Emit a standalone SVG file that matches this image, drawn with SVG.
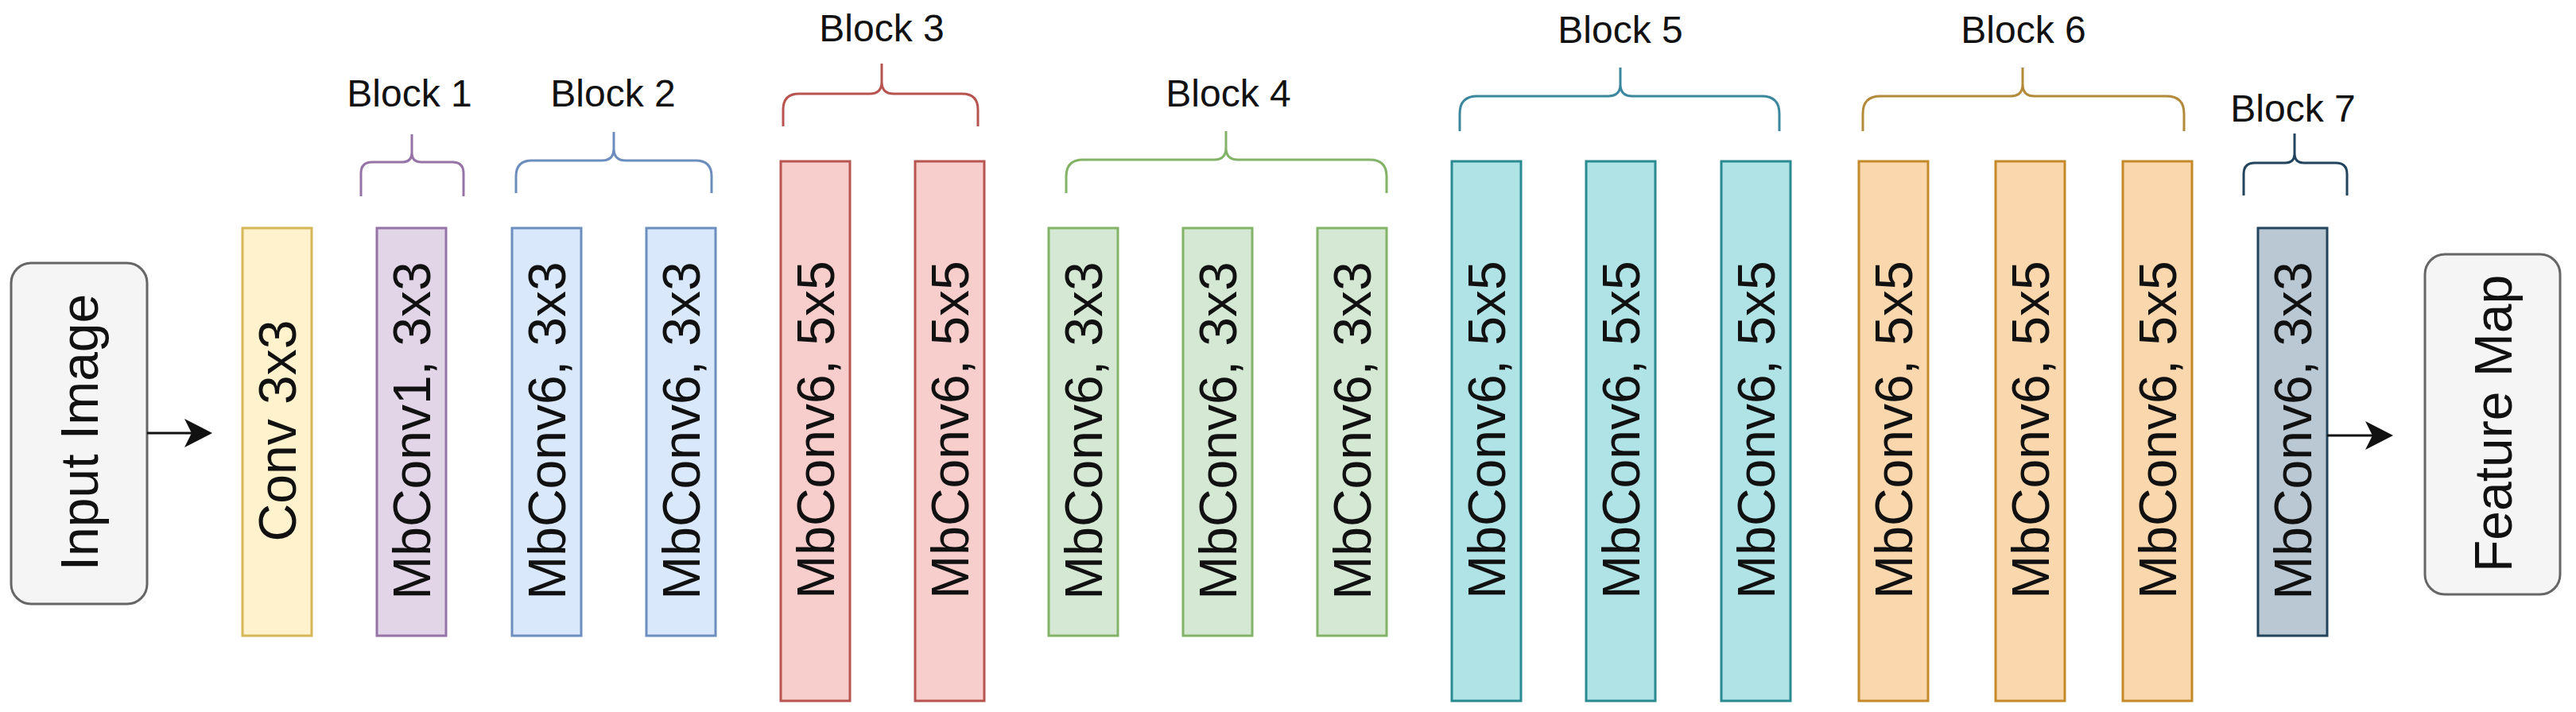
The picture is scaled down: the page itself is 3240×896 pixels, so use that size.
<svg xmlns="http://www.w3.org/2000/svg" width="3240" height="896" viewBox="0 0 3240 896">
  <style>
    .lbl { font-family: "Liberation Sans", Arial, Helvetica, sans-serif; fill: #111; }
    .vt { font-size: 66px; text-anchor: middle; }
    .bt { font-size: 48px; text-anchor: middle; }
    .box { stroke-width: 3; }
    .term { fill: #f5f5f5; stroke: #666666; stroke-width: 3; }
    .brace { fill: none; stroke-width: 3; stroke-linecap: butt; }
    .yel { fill: #fff2cc; stroke: #d6b656; }
    .pur { fill: #e1d5e7; stroke: #9673a6; }
    .blu { fill: #dae8fc; stroke: #6c8ebf; }
    .red { fill: #f8cecc; stroke: #b85450; }
    .grn { fill: #d5e8d4; stroke: #82b366; }
    .cya { fill: #b0e3e6; stroke: #2a8a92; }
    .ora { fill: #fad7ac; stroke: #c48a2a; }
    .gry { fill: #bac8d3; stroke: #23445d; }
    .conn { stroke: #111; stroke-width: 3; fill: none; }
  </style>
  <defs>
    <marker id="arrow" markerUnits="userSpaceOnUse" markerWidth="36" markerHeight="36" refX="26" refY="18" orient="auto">
      <path d="M0,0 L35,18 L0,36 L9,18 Z" fill="#111"/>
    </marker>
  </defs>
  <rect x="0" y="0" width="3240" height="896" fill="#ffffff"/>

  <g id="input-image">
    <rect class="term" x="14" y="331" width="171" height="429" rx="25" ry="25"/>
    <text class="lbl vt" transform="translate(122.6,544) rotate(-90)">Input Image</text>
  </g>

  <g id="conv3x3">
    <rect class="box yel" x="305" y="287" width="87" height="513"/>
    <text class="lbl vt" transform="translate(372,542) rotate(-90)">Conv 3x3</text>
  </g>

  <g id="block1">
    <path class="brace" stroke="#9673a6" d="M454,247 V218 Q454,204 468,204 H506 Q518,204 518,192 V169 M518,192 Q518,204 530,204 H569 Q583,204 583,218 V247"/>
    <text class="lbl bt" x="515" y="134">Block 1</text>
    <g id="b1-mbconv1">
      <rect class="box pur" x="474" y="287" width="87" height="513"/>
      <text class="lbl vt" transform="translate(541,542) rotate(-90)">MbConv1, 3x3</text>
    </g>
  </g>

  <g id="block2">
    <path class="brace" stroke="#6c8ebf" d="M649,243 V222 Q649,202 669,202 H757 Q772,202 772,187 V166 M772,187 Q772,202 787,202 H875 Q895,202 895,222 V243"/>
    <text class="lbl bt" x="771" y="134">Block 2</text>
    <g id="b2-1">
      <rect class="box blu" x="644" y="287" width="87" height="513"/>
      <text class="lbl vt" transform="translate(711,542) rotate(-90)">MbConv6, 3x3</text>
    </g>
    <g id="b2-2">
      <rect class="box blu" x="813" y="287" width="87" height="513"/>
      <text class="lbl vt" transform="translate(880,542) rotate(-90)">MbConv6, 3x3</text>
    </g>
  </g>

  <g id="block3">
    <path class="brace" stroke="#b85450" d="M985,159 V138 Q985,118 1005,118 H1094 Q1109,118 1109,103 V80 M1109,103 Q1109,118 1124,118 H1210 Q1230,118 1230,138 V159"/>
    <text class="lbl bt" x="1109" y="52">Block 3</text>
    <g id="b3-1">
      <rect class="box red" x="982" y="203" width="87" height="679"/>
      <text class="lbl vt" transform="translate(1049,541) rotate(-90)">MbConv6, 5x5</text>
    </g>
    <g id="b3-2">
      <rect class="box red" x="1151" y="203" width="87" height="679"/>
      <text class="lbl vt" transform="translate(1218,541) rotate(-90)">MbConv6, 5x5</text>
    </g>
  </g>

  <g id="block4">
    <path class="brace" stroke="#82b366" d="M1341,243 V222 Q1341,201 1362,201 H1527 Q1542,201 1542,186 V165 M1542,186 Q1542,201 1557,201 H1723 Q1744,201 1744,222 V243"/>
    <text class="lbl bt" x="1545" y="134">Block 4</text>
    <g id="b4-1">
      <rect class="box grn" x="1319" y="287" width="87" height="513"/>
      <text class="lbl vt" transform="translate(1386,542) rotate(-90)">MbConv6, 3x3</text>
    </g>
    <g id="b4-2">
      <rect class="box grn" x="1488" y="287" width="87" height="513"/>
      <text class="lbl vt" transform="translate(1555,542) rotate(-90)">MbConv6, 3x3</text>
    </g>
    <g id="b4-3">
      <rect class="box grn" x="1657" y="287" width="87" height="513"/>
      <text class="lbl vt" transform="translate(1724,542) rotate(-90)">MbConv6, 3x3</text>
    </g>
  </g>

  <g id="block5">
    <path class="brace" stroke="#3a879e" d="M1836,165 V143 Q1836,121 1858,121 H2023 Q2038,121 2038,106 V85 M2038,106 Q2038,121 2053,121 H2216 Q2238,121 2238,143 V165"/>
    <text class="lbl bt" x="2038" y="54">Block 5</text>
    <g id="b5-1">
      <rect class="box cya" x="1826" y="203" width="87" height="679"/>
      <text class="lbl vt" transform="translate(1893,541) rotate(-90)">MbConv6, 5x5</text>
    </g>
    <g id="b5-2">
      <rect class="box cya" x="1995" y="203" width="87" height="679"/>
      <text class="lbl vt" transform="translate(2062,541) rotate(-90)">MbConv6, 5x5</text>
    </g>
    <g id="b5-3">
      <rect class="box cya" x="2165" y="203" width="87" height="679"/>
      <text class="lbl vt" transform="translate(2232,541) rotate(-90)">MbConv6, 5x5</text>
    </g>
  </g>

  <g id="block6">
    <path class="brace" stroke="#b3893a" d="M2343,165 V143 Q2343,121 2365,121 H2529 Q2544,121 2544,106 V85 M2544,106 Q2544,121 2559,121 H2725 Q2747,121 2747,143 V165"/>
    <text class="lbl bt" x="2545" y="54">Block 6</text>
    <g id="b6-1">
      <rect class="box ora" x="2338" y="203" width="87" height="679"/>
      <text class="lbl vt" transform="translate(2405,541) rotate(-90)">MbConv6, 5x5</text>
    </g>
    <g id="b6-2">
      <rect class="box ora" x="2510" y="203" width="87" height="679"/>
      <text class="lbl vt" transform="translate(2577,541) rotate(-90)">MbConv6, 5x5</text>
    </g>
    <g id="b6-3">
      <rect class="box ora" x="2670" y="203" width="87" height="679"/>
      <text class="lbl vt" transform="translate(2737,541) rotate(-90)">MbConv6, 5x5</text>
    </g>
  </g>

  <g id="block7">
    <path class="brace" stroke="#23445d" d="M2822,246 V219 Q2822,205 2836,205 H2874 Q2886,205 2886,193 V168 M2886,193 Q2886,205 2898,205 H2938 Q2952,205 2952,219 V246"/>
    <text class="lbl bt" x="2884" y="153">Block 7</text>
    <g id="b7-1">
      <rect class="box gry" x="2840" y="287" width="87" height="513"/>
      <text class="lbl vt" transform="translate(2907,542) rotate(-90)">MbConv6, 3x3</text>
    </g>
  </g>

  <g id="feature-map">
    <rect class="term" x="3050" y="320" width="170" height="428" rx="25" ry="25"/>
    <text class="lbl vt" transform="translate(3158.6,533) rotate(-90)">Feature Map</text>
  </g>

  <g id="connectors">
    <line class="conn" x1="185" y1="545" x2="258" y2="545" marker-end="url(#arrow)"/>
    <line class="conn" x1="2927" y1="548" x2="3001" y2="548" marker-end="url(#arrow)"/>
  </g>
</svg>
